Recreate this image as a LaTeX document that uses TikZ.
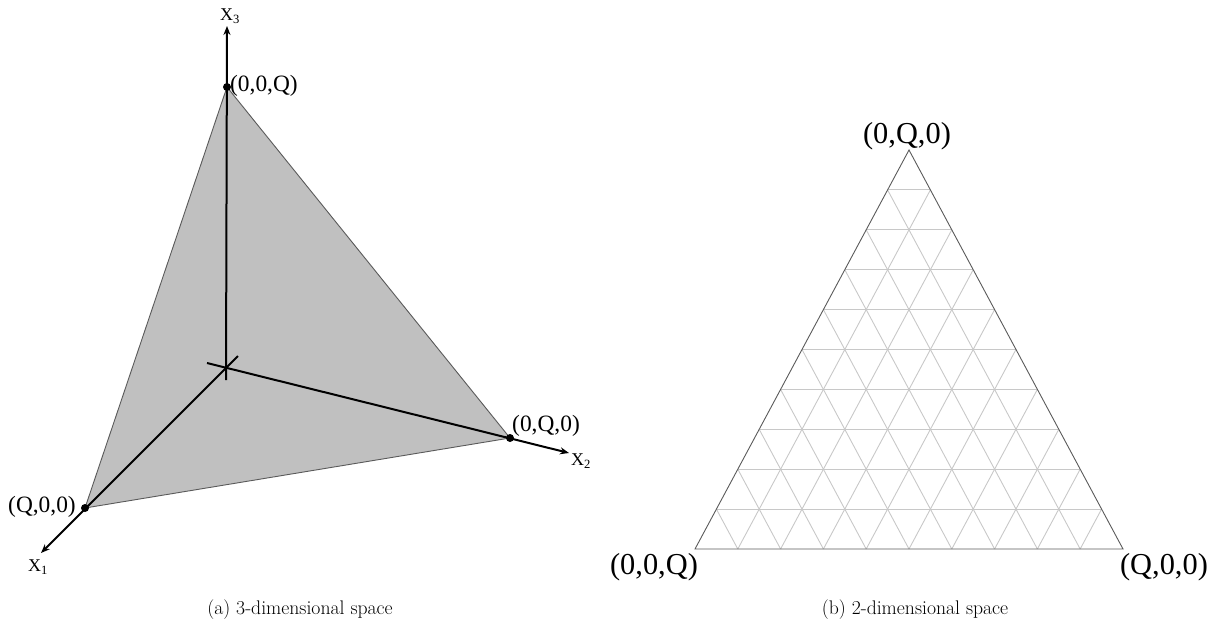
\documentclass[tikz,border=0pt]{standalone}
\usepackage{fontspec}
\newfontfamily\lblfont{Liberation Serif}
\usetikzlibrary{calc,arrows.meta}
\begin{document}
\begin{tikzpicture}[x=1pt,y=-1pt,
  axis/.style={line width=2pt,-{Stealth[length=9pt,width=7pt]}},
  dot/.style={circle,fill=black,inner sep=0pt,minimum size=8pt},
  smalllbl/.style={font=\lblfont\fontsize{23.4}{26}\selectfont,inner sep=0pt},
  axlbl/.style={font=\lblfont\fontsize{18}{21}\selectfont,inner sep=0pt},
  biglbl/.style={font=\lblfont\fontsize{30.4}{34}\selectfont,inner sep=0pt},
  caption/.style={font=\fontsize{19.7}{23}\selectfont,inner sep=0pt},
  grid/.style={draw={rgb,255:red,200;green,200;blue,200},line width=0.9pt},
  edge/.style={draw={rgb,255:red,90;green,90;blue,90},line width=0.9pt}]
\useasboundingbox (0,0) rectangle (1216,635);
% ---------- left panel ----------
\coordinate (O) at (226,368);
\coordinate (P3) at (227,87);
\coordinate (P2) at (510,438);
\coordinate (P1) at (85,508);
\coordinate (T3) at (227,26);
\coordinate (T2) at (569,453);
\coordinate (T1) at (41,553);
\coordinate (B3) at (226,380);
\coordinate (B2) at (207,363);
\coordinate (B1) at (238,356);
\fill[fill={rgb,255:red,192;green,192;blue,192}] (P3) -- (P2) -- (P1) -- cycle;
\draw[edge] (P3) -- (P2) -- (P1) -- cycle;
\draw[axis] (B3) -- (T3);
\draw[axis] (B2) -- (T2);
\draw[axis] (B1) -- (T1);
\node[dot] (d3) at (P3) {};
\node[dot] (d2) at (P2) {};
\node[dot] (d1) at (P1) {};
\node[smalllbl,anchor=west] (l3) at (230,86) {(0,0,Q)};
\node[smalllbl] (l2) at (546,426) {(0,Q,0)};
\node[smalllbl] (l1) at (42,507) {(Q,0,0)};
\node[axlbl] (x3) at (230,16) {X\textsubscript{3}};
\node[axlbl] (x2) at (581,461) {X\textsubscript{2}};
\node[axlbl] (x1) at (38,567) {X\textsubscript{1}};
\node[caption] (ca) at (300,610) {(a) 3-dimensional space};
% ---------- right panel ----------
\coordinate (A) at (695,549);
\coordinate (B) at (1123,549);
\coordinate (C) at (909,150);
\foreach \t in {0.1,0.2,...,0.95}{
  \draw[grid] ($(A)!\t!(C)$) -- ($(B)!\t!(C)$);
  \draw[grid] ($(A)!\t!(B)$) -- ($(C)!\t!(B)$);
  \draw[grid] ($(A)!\t!(B)$) -- ($(A)!\t!(C)$);
}
\draw[edge] (A) -- (B) -- (C) -- cycle;
\node[biglbl] (lc) at (907,136) {(0,Q,0)};
\node[biglbl] (la) at (654,567) {(0,0,Q)};
\node[biglbl] (lb) at (1164,567) {(Q,0,0)};
\node[caption] (cb) at (915,610) {(b) 2-dimensional space};
\end{tikzpicture}
\end{document}
